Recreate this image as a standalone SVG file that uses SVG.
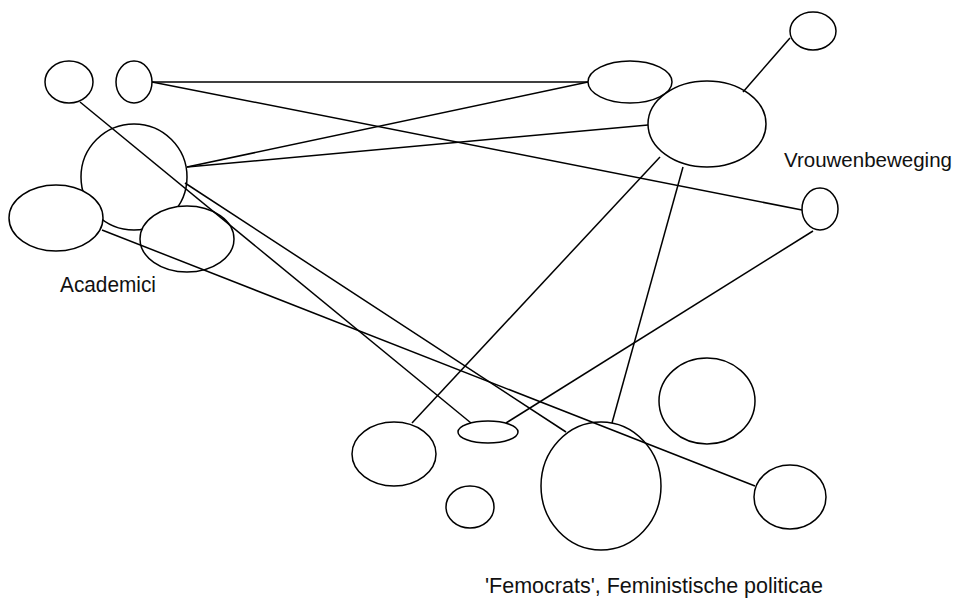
<svg xmlns="http://www.w3.org/2000/svg" width="962" height="604" viewBox="0 0 962 604">
<style>
.n{fill:#fff;stroke:#000;stroke-width:1.5}
.e line{stroke:#000;stroke-width:1.5}
text{font-family:"Liberation Sans",Arial,sans-serif;font-size:22px;fill:#111}
</style>
<rect width="962" height="604" fill="#fff"/>
<g id="nodes-academici">
<ellipse id="a-big" class="n" cx="134" cy="177" rx="53" ry="53"/>
<ellipse id="a-tl" class="n" cx="69" cy="82" rx="24" ry="21"/>
<ellipse id="a-t2" class="n" cx="134" cy="82" rx="18" ry="21"/>
<ellipse id="a-left" class="n" cx="56" cy="218" rx="47" ry="33"/>
<ellipse id="a-mid" class="n" cx="187" cy="239" rx="47" ry="33"/>
</g>
<g id="nodes-vrouwen">
<ellipse id="v-a" class="n" cx="630" cy="82" rx="42" ry="21"/>
<ellipse id="v-big" class="n" cx="707" cy="124" rx="59" ry="43"/>
<ellipse id="v-tr" class="n" cx="813" cy="31" rx="23" ry="19"/>
<ellipse id="v-r" class="n" cx="820" cy="209" rx="18" ry="21"/>
</g>
<g id="nodes-femocrats">
<ellipse id="f-left" class="n" cx="394" cy="454" rx="42" ry="32"/>
<ellipse id="f-flat" class="n" cx="488" cy="432" rx="30" ry="11"/>
<ellipse id="f-small" class="n" cx="470" cy="507" rx="24" ry="21"/>
<ellipse id="f-big" class="n" cx="601" cy="486" rx="60" ry="64"/>
<ellipse id="f-ur" class="n" cx="707" cy="401" rx="48" ry="43"/>
<ellipse id="f-r" class="n" cx="790" cy="497" rx="36" ry="32"/>
</g>
<g id="connectors" class="e">
<line x1="152" y1="82" x2="588" y2="82"/>
<line x1="152" y1="82" x2="802" y2="210"/>
<line x1="187" y1="167" x2="588" y2="82"/>
<line x1="187" y1="167" x2="648" y2="125"/>
<line x1="80" y1="102" x2="471" y2="423"/>
<line x1="185" y1="183" x2="566" y2="432"/>
<line x1="102" y1="230" x2="755" y2="486"/>
<line x1="660" y1="157" x2="412" y2="423"/>
<line x1="683" y1="167" x2="612" y2="423"/>
<line x1="813" y1="231" x2="506" y2="423"/>
<line x1="790" y1="38" x2="743" y2="92"/>
</g>
<g id="labels">
<text x="60" y="292" textLength="96" lengthAdjust="spacingAndGlyphs">Academici</text>
<text x="784" y="167" font-size="20" style="font-size:20px" textLength="168" lengthAdjust="spacingAndGlyphs">Vrouwenbeweging</text>
<text x="485" y="593" textLength="338" lengthAdjust="spacingAndGlyphs">'Femocrats', Feministische politicae</text>
</g>
</svg>
